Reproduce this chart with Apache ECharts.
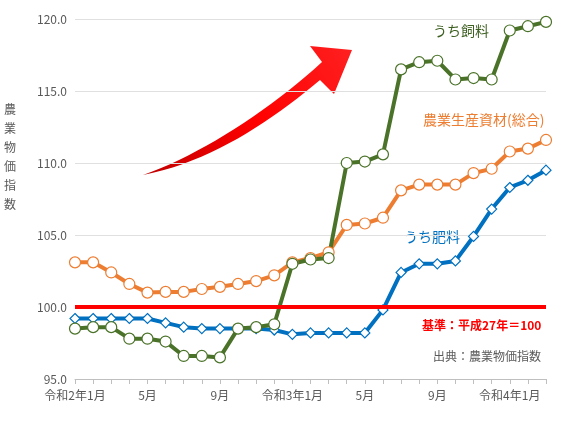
<!DOCTYPE html>
<html><head><meta charset="utf-8">
<script src="https://cdn.jsdelivr.net/npm/echarts@6/dist/echarts.min.js"></script>
<style>html,body{margin:0;padding:0;background:#fff}#c{width:565px;height:424px}</style>
</head><body><div id="c"></div>
<script>
const months = ['令和2年1月','2月','3月','4月','5月','6月','7月','8月','9月','10月','11月','12月',
  '令和3年1月','2月','3月','4月','5月','6月','7月','8月','9月','10月','11月','12月',
  '令和4年1月','2月','3月'];
const shownLabels = {0:'令和2年1月',4:'5月',8:'9月',12:'令和3年1月',16:'5月',20:'9月',24:'令和4年1月'};
const total = [103.1,103.1,102.4,101.6,101.0,101.05,101.05,101.25,101.4,101.6,101.8,102.2,103.1,103.4,103.8,105.7,105.8,106.2,108.1,108.5,108.5,108.5,109.3,109.6,110.8,111.0,111.6];
const feed = [98.5,98.6,98.6,97.8,97.8,97.6,96.6,96.6,96.5,98.5,98.6,98.8,103.0,103.3,103.4,110.0,110.1,110.6,116.5,117.0,117.1,115.8,115.9,115.8,119.2,119.5,119.8];
const fert = [99.2,99.2,99.2,99.2,99.2,98.9,98.6,98.5,98.5,98.5,98.5,98.4,98.1,98.2,98.2,98.2,98.2,99.8,102.4,103.0,103.0,103.2,104.9,106.8,108.3,108.8,109.5];
const baseValue = 100;

const font = '"Noto Sans CJK JP", sans-serif';
function bez(p0,p1,p2,p3,n){const o=[];for(let i=0;i<=n;i++){const t=i/n,u=1-t;
  o.push([u*u*u*p0[0]+3*u*u*t*p1[0]+3*u*t*t*p2[0]+t*t*t*p3[0],u*u*u*p0[1]+3*u*u*t*p1[1]+3*u*t*t*p2[1]+t*t*t*p3[1]]);}return o;}
const lower = bez([143,175],[210,162],[270,122],[320,80],20);
const upper = bez([322,62],[270,110],[200,155],[143,175],20);
const arrowPts = lower.concat([[334,94],[352,50],[310,46]]).concat(upper);

const chart = echarts.init(document.getElementById('c'));
function ser(name, data, color, symbol){
  return {name, type:'line', data, symbol, symbolSize: symbol==='circle'?11:10,
    lineStyle:{color, width:4}, itemStyle:{color:'#fff', borderColor:color, borderWidth:1.2},
    z: 3, animation:false};
}
chart.setOption({
  animation:false,
  grid:{left:75, right:19, top:19, bottom:45},
  xAxis:{type:'category', data:months, boundaryGap:false,
    axisLine:{lineStyle:{color:'#bfbfbf'}},
    axisTick:{show:true, interval:0, lineStyle:{color:'#bfbfbf'}, length:5},
    axisLabel:{interval:0, color:'#595959', fontFamily:font, fontSize:12, margin:10,
      formatter:(v,i)=>shownLabels[i]||''}},
  yAxis:{type:'value', min:95, max:120, interval:5,
    axisLine:{show:false}, axisTick:{show:false},
    splitLine:{lineStyle:{color:'#e0e0e0'}},
    axisLabel:{color:'#595959', fontFamily:font, fontSize:12, formatter:v=>v.toFixed(1)}},
  series:[
    {type:'line', data:[], markLine:{symbol:'none', silent:true, label:{show:false},
      lineStyle:{color:'#ff0000', width:4, type:'solid'}, data:[{yAxis:baseValue}]}, z:2},
    ser('農業生産資材(総合)', total, '#ED7D31', 'circle'),
    ser('うち肥料', fert, '#0070C0', 'diamond'),
    ser('うち飼料', feed, '#4A7228', 'circle')
  ],
  graphic:[
    {type:'text', left:4, top:100, style:{text:'農\n業\n物\n価\n指\n数', fill:'#595959', font:'12px '+font, lineHeight:19}},
    {type:'polygon', shape:{points:arrowPts},
      style:{fill:{type:'linear',x:0,y:1,x2:1,y2:0,colorStops:[{offset:0,color:'#c00000'},{offset:0.5,color:'#ff0000'},{offset:1,color:'#ff2020'}]}}},
    {type:'text', left:433, top:24, style:{text:'うち飼料', fill:'#3d5f20', font:'14px '+font}},
    {type:'text', left:423, top:113, style:{text:'農業生産資材(総合)', fill:'#ED7D31', font:'14px '+font}},
    {type:'text', left:404, top:230, style:{text:'うち肥料', fill:'#0070C0', font:'14px '+font}},
    {type:'text', left:422, top:319, style:{text:'基準：平成27年＝100', fill:'#ff0000', font:'bold 12px '+font}},
    {type:'text', left:433, top:350, style:{text:'出典：農業物価指数', fill:'#595959', font:'12px '+font}}
  ]
});
</script></body></html>
